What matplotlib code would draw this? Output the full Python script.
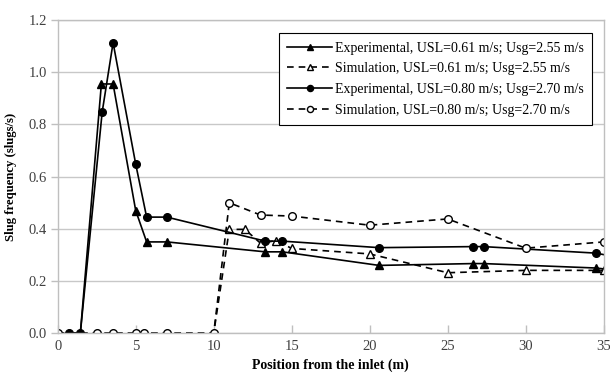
import matplotlib
matplotlib.use('Agg')
import matplotlib.pyplot as plt

# experimental, USL=0.61 / Usg=2.55
exp1_x = [0.75, 1.45, 2.8, 3.55, 5.0, 5.7, 7.0, 13.3, 14.4, 20.6, 26.6, 27.3, 34.5, 36.0]
exp1_y = [0.0, 0.0, 0.955, 0.955, 0.47, 0.35, 0.35, 0.312, 0.312, 0.26, 0.267, 0.267, 0.25, 0.24]
# simulation, USL=0.61 / Usg=2.55
sim1_x = [0, 2.55, 3.55, 5.0, 5.55, 7.0, 10.0, 11.0, 12.0, 13.0, 14.0, 15.0, 20.0, 25.0, 30.0, 35.0]
sim1_y = [0, 0, 0, 0, 0, 0, 0, 0.398, 0.398, 0.345, 0.355, 0.325, 0.304, 0.232, 0.241, 0.241]
# experimental, USL=0.80 / Usg=2.70
exp2_x = [0.75, 1.45, 2.85, 3.55, 5.0, 5.7, 7.0, 13.3, 14.4, 20.6, 26.6, 27.3, 34.5, 36.0]
exp2_y = [0.0, 0.0, 0.847, 1.113, 0.648, 0.445, 0.445, 0.353, 0.353, 0.328, 0.332, 0.332, 0.307, 0.29]
# simulation, USL=0.80 / Usg=2.70
sim2_x = [0, 2.55, 3.55, 5.0, 5.55, 7.0, 10.0, 11.0, 13.0, 15.0, 20.0, 25.0, 30.0, 35.0]
sim2_y = [0, 0, 0, 0, 0, 0, 0, 0.50, 0.453, 0.449, 0.414, 0.438, 0.326, 0.35]

labels = ['Experimental, USL=0.61 m/s; Usg=2.55 m/s',
          'Simulation, USL=0.61 m/s; Usg=2.55 m/s',
          'Experimental, USL=0.80 m/s; Usg=2.70 m/s',
          'Simulation, USL=0.80 m/s; Usg=2.70 m/s']

plt.rcParams['font.family'] = ['Liberation Serif', 'DejaVu Serif']

fig = plt.figure(figsize=(6.1, 3.76), dpi=100)
ax = fig.add_axes([0.0946, 0.1136, 0.8951, 0.8332])

dash = (0, (4, 3))
ax.plot(exp1_x, exp1_y, color='black', lw=1.2, marker='^', ms=5.5, mfc='black', label=labels[0])
ax.plot(sim1_x, sim1_y, color='black', lw=1.2, ls=dash, marker='^', ms=5.5, mfc='white', label=labels[1])
ax.plot(exp2_x, exp2_y, color='black', lw=1.2, marker='o', ms=5.5, mfc='black', label=labels[2])
ax.plot(sim2_x, sim2_y, color='black', lw=1.2, ls=dash, marker='o', ms=5.5, mfc='white', label=labels[3])

ax.set_xlim(0, 35)
ax.set_ylim(0, 1.2)
ax.set_xticks([0, 5, 10, 15, 20, 25, 30, 35])
ax.set_yticks([0.0, 0.2, 0.4, 0.6, 0.8, 1.0, 1.2])
ax.set_yticklabels(['%.1f' % v for v in ax.get_yticks()])
ax.tick_params(axis='y', direction='out', length=5, width=1, color='#bfbfbf',
               labelsize=10.5, labelcolor='#404040', pad=3)
ax.tick_params(axis='x', direction='in', length=6, width=1, color='#bfbfbf',
               labelsize=10.5, labelcolor='#404040', pad=5)
ax.yaxis.grid(True, color='#c8c8c8', lw=1)
ax.set_axisbelow(True)
for s in ax.spines.values():
    s.set_color('#bfbfbf')
    s.set_linewidth(1)

ax.set_xlabel('Position from the inlet (m)', fontsize=10, fontweight='bold', labelpad=4)
ax.set_ylabel('Slug frequency (slugs/s)', fontsize=9.2, fontweight='bold', labelpad=8)

leg = ax.legend(loc='upper left', bbox_to_anchor=(0.4055, 0.9575), fontsize=10,
                frameon=True, fancybox=False, edgecolor='black', framealpha=1,
                handlelength=3.2, handletextpad=0.2, borderpad=0.6, labelspacing=0.55,
                borderaxespad=0, markerscale=0.8)
leg.get_frame().set_linewidth(0.8)

fig.savefig('out.png', dpi=100)
